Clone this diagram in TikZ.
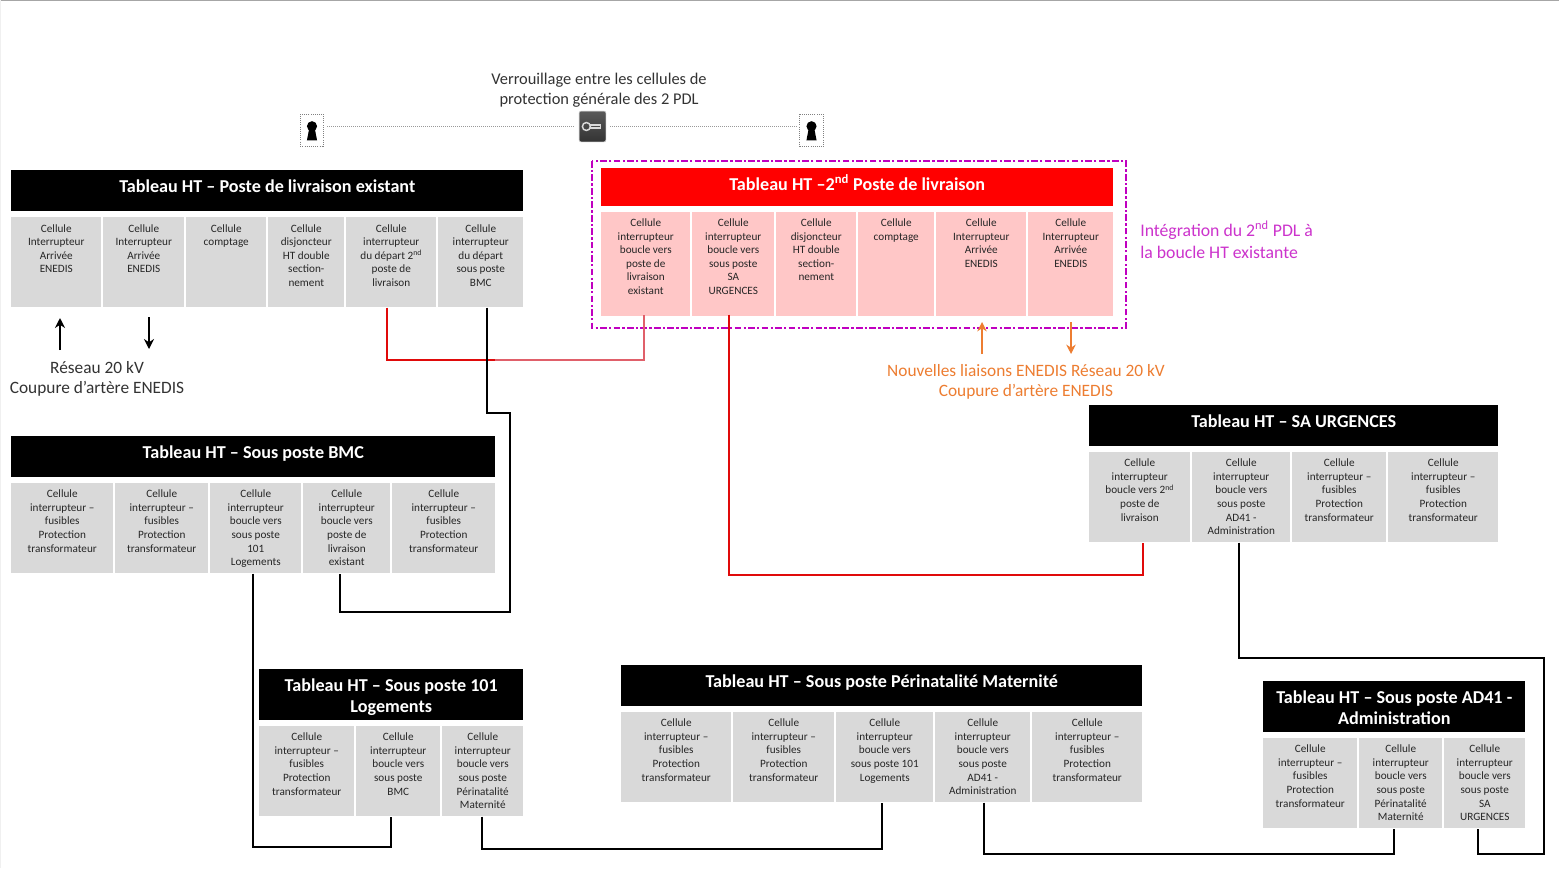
\documentclass[tikz,border=0pt]{standalone}
\usepackage{fontspec}
\setmainfont{Carlito}
\usetikzlibrary{arrows.meta}
\definecolor{cellgray}{HTML}{D9D9D9}
\definecolor{cellpink}{HTML}{FFC7C7}
\definecolor{purplebox}{HTML}{C000C0}
\definecolor{purpletext}{HTML}{CC33CC}
\definecolor{orangeline}{HTML}{ED7D31}
\definecolor{darktext}{HTML}{333333}
\definecolor{redline}{HTML}{E00A0A}
\definecolor{salmonline}{HTML}{E0606A}
\tikzset{
  link/.style={line width=1.5pt,line join=miter,draw=black},
  redlink/.style={link,draw=redline},
  salmonlink/.style={link,draw=salmonline},
  upperarrow/.style={line width=1.7pt,-{Stealth[length=7.5pt,width=7.5pt]}},
  orangearrow/.style={line width=1.3pt,draw=orangeline,-{Stealth[length=7pt,width=7pt]}},
  lockbox/.style={draw=gray,densely dotted,line width=.6pt,minimum width=17.5pt,minimum height=24.5pt,inner sep=0pt},
  keylink/.style={draw=gray!80,densely dotted,line width=.5pt},
  biglabel/.style={font=\fontsize{13}{15}\selectfont,align=center,inner sep=0pt}
}
\newlength\cw
\newlength\ch
% name x0 y0 x1 y1 fill top-offset(pt) text
\newcommand{\cellnode}[8]{%
  \pgfmathsetlength\cw{(#4-#2)*0.75}%
  \pgfmathsetlength\ch{(#5-#3)*0.75}%
  \node[anchor=north west,inner sep=0pt,fill=#6,text=black!85] (#1) at (#2,#3) {\vbox to \ch{\vskip #7\hsize=\cw\linewidth=\cw\centering\fontsize{8.4}{10.2}\selectfont\strut #8\par\vss}};}
% [top-offset] name x0 y0 x1 y1 fill text
\newcommand{\headnode}[7][5.8pt]{%
  \headnodeinner{#1}{#2}{#3}{#4}{#5}{#6}{#7}}
\newcommand{\headnodeinner}[7]{%
  \pgfmathsetlength\cw{(#5-#3)*0.75}%
  \pgfmathsetlength\ch{(#6-#4)*0.75}%
  \headnodedraw{#1}{#2}{#3}{#4}{#7}}
\newcommand{\headnodedraw}[5]{%
  \node[anchor=north west,inner sep=0pt,fill=\headfill,text=white] (#2) at (#3,#4) {\vbox to \ch{\vskip #1\hsize=\cw\linewidth=\cw\centering\fontsize{13.6}{15.75}\selectfont\bfseries\strut #5\par\vss}};}
\newcommand{\headfill}{black}
\begin{document}
\begin{tikzpicture}[x=0.75pt,y=-0.75pt]
\useasboundingbox (0,0) rectangle (1559,868);
\fill[white] (0,0) rectangle (1559,868);
\draw[gray!70,line width=1pt] (0,0.6) -- (1559,0.6);
\draw[gray!12,line width=.75pt] (0.5,0) -- (0.5,868);

% Verrouillage
\node[biglabel,text=darktext,font=\fontsize{12.3}{15}\selectfont] (lockText) at (599,90) {Verrouillage entre les cellules de\\[-.2pt]protection générale des 2 PDL};
\node[lockbox] (lockL) at (312,130.5) {};
\node[lockbox] (lockR) at (811.5,130.5) {};
\node[minimum width=20pt,minimum height=23pt,inner sep=0pt,rounded corners=1.5pt,draw=gray!60,line width=.5pt,top color=gray!70!black,bottom color=black!80] (keyIcon) at (592.5,126.5) {};
\draw[keylink] (lockL.east |- keyIcon.center) ++(3,0) -- ([xshift=-3pt]keyIcon.west);
\draw[keylink] ([xshift=3pt]keyIcon.east) -- ([xshift=-2pt]lockR.west |- keyIcon.center);
\foreach \n in {lockL,lockR}{
  \fill[black] ([yshift=3.2pt]\n.center) circle (3.8pt);
  \fill[black] ([xshift=-1.8pt,yshift=3pt]\n.center) -- ([xshift=1.8pt,yshift=3pt]\n.center) -- ([xshift=3.8pt,yshift=-7.4pt]\n.center) -- ([xshift=-3.8pt,yshift=-7.4pt]\n.center) -- cycle;
}
\draw[gray!30,line width=1.1pt] ([xshift=-4.6pt]keyIcon.center) circle (3pt);
\draw[gray!30,line width=1pt] ([xshift=-1.6pt,yshift=1.2pt]keyIcon.center) -- ++(10,0) -- ++(0,3.2) -- ++(-10,0);

% Poste existant
\headnode{hA}{11}{170}{523}{211}{Tableau HT – Poste de livraison existant}
\cellnode{a1}{11}{217}{101}{307}{cellgray}{4pt}{Cellule\\Interrupteur\\Arrivée\\ENEDIS}
\cellnode{a2}{103}{217}{184}{307}{cellgray}{4pt}{Cellule\\Interrupteur\\Arrivée\\ENEDIS}
\cellnode{a3}{186}{217}{266}{307}{cellgray}{4pt}{Cellule\\comptage}
\cellnode{a4}{268}{217}{344}{307}{cellgray}{4pt}{Cellule\\disjoncteur\\HT double\\section-\\nement}
\cellnode{a5}{346}{217}{436}{307}{cellgray}{4pt}{Cellule\\interrupteur\\du départ 2\textsuperscript{nd}\\poste de\\livraison}
\cellnode{a6}{438}{217}{523}{307}{cellgray}{4pt}{Cellule\\interrupteur\\du départ\\sous poste\\BMC}

% 2e poste
\draw[purplebox,line width=1.6pt,dash pattern=on 5pt off 1.7pt on 1.7pt off 1.7pt] (592,161) rectangle (1126,328);
\renewcommand{\headfill}{red}
\headnode[5.1pt]{hB}{601}{168}{1113}{206}{Tableau HT –2\textsuperscript{nd} Poste de livraison}
\renewcommand{\headfill}{black}
\cellnode{b1}{601}{212}{690}{316}{cellpink}{3.6pt}{Cellule\\interrupteur\\boucle vers\\poste de\\livraison\\existant}
\cellnode{b2}{692}{212}{774}{316}{cellpink}{3.6pt}{Cellule\\interrupteur\\boucle vers\\sous poste\\SA\\URGENCES}
\cellnode{b3}{776}{212}{856}{316}{cellpink}{3.6pt}{Cellule\\disjoncteur\\HT double\\section-\\nement}
\cellnode{b4}{858}{212}{934}{316}{cellpink}{3.6pt}{Cellule\\comptage}
\cellnode{b5}{936}{212}{1026}{316}{cellpink}{3.6pt}{Cellule\\Interrupteur\\Arrivée\\ENEDIS}
\cellnode{b6}{1028}{212}{1113}{316}{cellpink}{3.6pt}{Cellule\\Interrupteur\\Arrivée\\ENEDIS}

% SA URGENCES
\headnode{hC}{1089}{405}{1498}{446}{Tableau HT – SA URGENCES}
\cellnode{c1}{1089}{452}{1190}{542}{cellgray}{3.7pt}{Cellule\\interrupteur\\boucle vers 2\textsuperscript{nd}\\poste de\\livraison}
\cellnode{c2}{1192}{452}{1290}{542}{cellgray}{3.7pt}{Cellule\\interrupteur\\boucle vers\\sous poste\\AD41 -\\Administration}
\cellnode{c3}{1292}{452}{1386}{542}{cellgray}{3.7pt}{Cellule\\interrupteur –\\fusibles\\Protection\\transformateur}
\cellnode{c4}{1388}{452}{1498}{542}{cellgray}{3.7pt}{Cellule\\interrupteur –\\fusibles\\Protection\\transformateur}

% BMC
\headnode{hD}{11}{436}{495}{477}{Tableau HT – Sous poste BMC}
\cellnode{d1}{11}{483}{113}{573}{cellgray}{3.7pt}{Cellule\\interrupteur –\\fusibles\\Protection\\transformateur}
\cellnode{d2}{115}{483}{208}{573}{cellgray}{3.7pt}{Cellule\\interrupteur –\\fusibles\\Protection\\transformateur}
\cellnode{d3}{210}{483}{301}{573}{cellgray}{3.7pt}{Cellule\\interrupteur\\boucle vers\\sous poste\\101\\Logements}
\cellnode{d4}{303}{483}{390}{573}{cellgray}{3.7pt}{Cellule\\interrupteur\\boucle vers\\poste de\\livraison\\existant}
\cellnode{d5}{392}{483}{495}{573}{cellgray}{3.7pt}{Cellule\\interrupteur –\\fusibles\\Protection\\transformateur}

% 101 Logements
\headnode{hE}{259}{669}{523}{720}{Tableau HT – Sous poste 101\\Logements}
\cellnode{e1}{259}{726}{354}{816}{cellgray}{3.7pt}{Cellule\\interrupteur –\\fusibles\\Protection\\transformateur}
\cellnode{e2}{356}{726}{440}{816}{cellgray}{3.7pt}{Cellule\\interrupteur\\boucle vers\\sous poste\\BMC}
\cellnode{e3}{442}{726}{523}{816}{cellgray}{3.7pt}{Cellule\\interrupteur\\boucle vers\\sous poste\\Périnatalité\\Maternité}

% Perinatalite
\headnode{hF}{621}{665}{1142}{706}{Tableau HT – Sous poste Périnatalité Maternité}
\cellnode{f1}{621}{712}{731}{802}{cellgray}{3.7pt}{Cellule\\interrupteur –\\fusibles\\Protection\\transformateur}
\cellnode{f2}{733}{712}{834}{802}{cellgray}{3.7pt}{Cellule\\interrupteur –\\fusibles\\Protection\\transformateur}
\cellnode{f3}{836}{712}{933}{802}{cellgray}{3.7pt}{Cellule\\interrupteur\\boucle vers\\sous poste 101\\Logements}
\cellnode{f4}{935}{712}{1030}{802}{cellgray}{3.7pt}{Cellule\\interrupteur\\boucle vers\\sous poste\\AD41 -\\Administration}
\cellnode{f5}{1032}{712}{1142}{802}{cellgray}{3.7pt}{Cellule\\interrupteur –\\fusibles\\Protection\\transformateur}

% AD41
\headnode{hG}{1263}{681}{1525}{732}{Tableau HT – Sous poste AD41 -\\Administration}
\cellnode{g1}{1263}{738}{1357}{828}{cellgray}{3.7pt}{Cellule\\interrupteur –\\fusibles\\Protection\\transformateur}
\cellnode{g2}{1359}{738}{1442}{828}{cellgray}{3.7pt}{Cellule\\interrupteur\\boucle vers\\sous poste\\Périnatalité\\Maternité}
\cellnode{g3}{1444}{738}{1525}{828}{cellgray}{3.7pt}{Cellule\\interrupteur\\boucle vers\\sous poste\\SA\\URGENCES}

% Labels
\node[biglabel,text=darktext] (reseauText) at (97,379) {Réseau 20 kV\\Coupure d’artère ENEDIS};
\node[biglabel,text=orangeline] (orangeText) at (1026,382) {Nouvelles liaisons ENEDIS Réseau 20 kV\\Coupure d’artère ENEDIS};
\node[biglabel,text=purpletext,align=left,anchor=west,font=\fontsize{13.3}{16.5}\selectfont] (purpleText) at (1140,239.5) {Intégration du 2\textsuperscript{nd} PDL à\\la boucle HT existante};

% Arrows
\coordinate (upA) at (60,350); \coordinate (upB) at (60,318);
\coordinate (dnA) at (149,317); \coordinate (dnB) at (149,349);
\draw[upperarrow] (upA) -- (upB);
\draw[upperarrow] (dnA) -- (dnB);
\coordinate (ouA) at (982,354); \coordinate (ouB) at (982,322);
\coordinate (odA) at (1071,322); \coordinate (odB) at (1071,354);
\draw[orangearrow] (ouA) -- (ouB);
\draw[orangearrow] (odA) -- (odB);

% Connectors
\draw[redlink] ([xshift=41*0.75pt]a5.south west) -- ++(0,52) -- ++(108,0) coordinate (redMid);
\draw[salmonlink] (redMid) -| ([xshift=43*0.75pt,yshift=1pt]b1.south west);
\draw[redlink] ([xshift=37*0.75pt,yshift=1.5pt]b2.south west) -- ++(0,260) -| ([xshift=54*0.75pt]c1.south west);
\draw[link] ([xshift=49*0.75pt]a6.south west) -- ++(0,105) -- ++(23,0) -- ++(0,199) -| ([xshift=37*0.75pt]d4.south west);
\draw[link] ([xshift=43*0.75pt]d3.south west) -- ++(0,273) -| ([xshift=35*0.75pt]e2.south west);
\draw[link] ([xshift=40*0.75pt]e3.south west) -- ++(0,32) -| ([xshift=46*0.75pt]f3.south west);
\draw[link] ([xshift=49*0.75pt]f4.south west) -- ++(0,51) -| ([xshift=35*0.75pt]g2.south west);
\draw[link] ([xshift=47*0.75pt]c2.south west) -- ++(0,115) -- ++(305,0) -- ++(0,196) -| ([xshift=34*0.75pt]g3.south west);
\end{tikzpicture}
\end{document}
